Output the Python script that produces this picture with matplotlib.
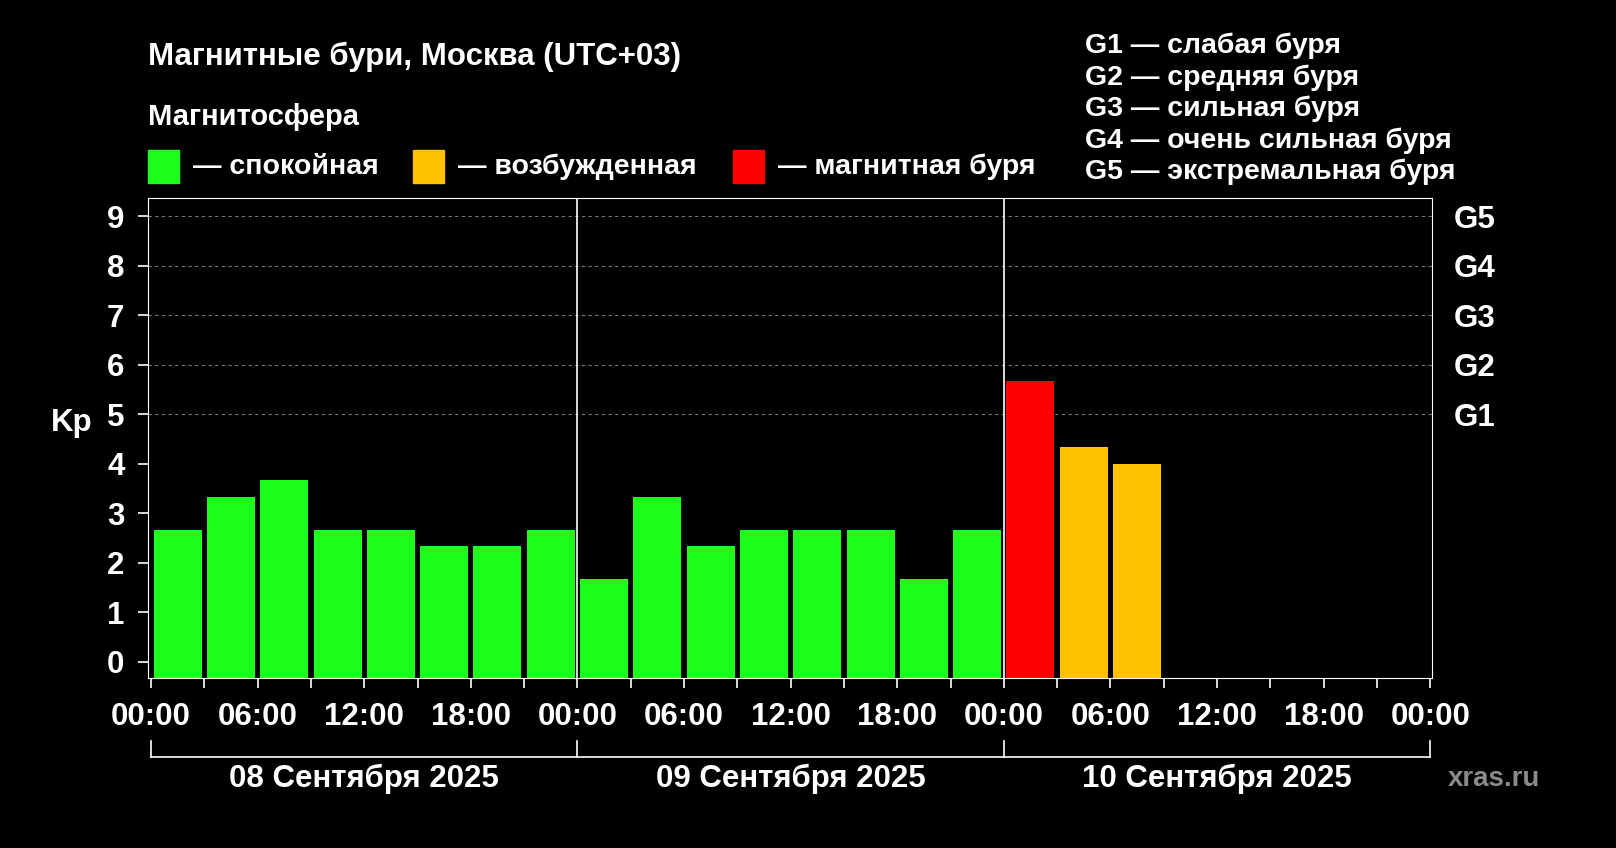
import matplotlib
matplotlib.use("Agg")
import matplotlib.pyplot as plt
from matplotlib.patches import Rectangle

plt.rcParams["font.family"] = ["Liberation Sans", "DejaVu Sans"]
plt.rcParams["font.weight"] = "bold"

kp = [2.67, 3.33, 3.67, 2.67, 2.67, 2.33, 2.33, 2.67,
      1.67, 3.33, 2.33, 2.67, 2.67, 2.67, 1.67, 2.67,
      5.67, 4.33, 4.0]
days = ["08 Сентября 2025", "09 Сентября 2025", "10 Сентября 2025"]
hour_labels = ["00:00", "06:00", "12:00", "18:00"] * 3 + ["00:00"]
storm_levels = [5, 6, 7, 8, 9]
storm_labels = ["G1", "G2", "G3", "G4", "G5"]
legend_right = ["G1 — слабая буря", "G2 — средняя буря", "G3 — сильная буря",
                "G4 — очень сильная буря", "G5 — экстремальная буря"]

GREEN, ORANGE, RED = "#1cff1c", "#ffc000", "#ff0000"
BASE = -0.33


def colour(v):
    if v >= 5:
        return RED
    if v >= 4:
        return ORANGE
    return GREEN


W, H = 1616, 848
fig = plt.figure(figsize=(W / 100, H / 100), dpi=100, facecolor="black")
ax = fig.add_axes([148 / W, 1 - 678 / H, (1432 - 148) / W, (678 - 198) / H], facecolor="black")

x = [1.5 + 3 * i for i in range(len(kp))]
ax.bar(x, [v - BASE for v in kp], width=2.7, bottom=BASE, color=[colour(v) for v in kp])
ax.set_xlim(-0.17, 72.1)
ax.set_ylim(BASE, 9.37)

for lv in storm_levels:
    ax.axhline(lv, color="#777777", linestyle=(0, (3, 3)), linewidth=0.8, zorder=0)
for d in (24, 48):
    ax.axvline(d, color="white", linewidth=1.2)

for s in ax.spines.values():
    s.set_color("white")
ax.set_xticks(range(0, 73, 6))
ax.set_xticklabels(hour_labels)
ax.set_xticks(range(0, 73, 3), minor=True)
ax.set_yticks(range(10))
ax.tick_params(colors="white", labelsize=22.5, length=7, width=1.2, direction="out", pad=10)
ax.tick_params(axis="x", which="minor", colors="white", length=7, width=1.2)
ax.tick_params(axis="y", right=True)
ax.set_ylabel("Kp", color="white", fontsize=22.5, rotation=0, labelpad=25, weight="bold")

ax2 = ax.twinx()
ax2.set_ylim(ax.get_ylim())
ax2.set_yticks(storm_levels)
ax2.set_yticklabels(storm_labels)
ax2.tick_params(colors="white", labelsize=22.5, length=0, pad=16)
for s in ax2.spines.values():
    s.set_visible(False)


# day bracket under the axis
def fx(h):
    return (151 + h * (1430 - 151) / 72) / W


def fy(py):
    return 1 - py / H


fig.add_artist(plt.Line2D([fx(0), fx(72)], [fy(757), fy(757)], color="white", lw=1.2))
for h in (0, 24, 48, 72):
    fig.add_artist(plt.Line2D([fx(h), fx(h)], [fy(757), fy(741)], color="white", lw=1.2))
for i, d in enumerate(days):
    fig.text(fx(12 + 24 * i), fy(779), d, color="white", fontsize=22.5, ha="center", va="center")
fig.text(1448 / W, fy(779), "xras.ru", color="#8a8a8a", fontsize=20, ha="left", va="center")

fig.text(148 / W, fy(57), "Магнитные бури, Москва (UTC+03)", color="white", fontsize=22.5, va="center")
fig.text(148 / W, fy(117), "Магнитосфера", color="white", fontsize=21, va="center")
for px, c, t in [(148, GREEN, "— спокойная"), (413, ORANGE, "— возбужденная"), (733, RED, "— магнитная буря")]:
    fig.add_artist(Rectangle((px / W, fy(183)), 31 / W, 33 / H, color=c, transform=fig.transFigure))
    fig.text((px + 45) / W, fy(167), t, color="white", fontsize=20.5, va="center")
for i, t in enumerate(legend_right):
    fig.text(1085 / W, fy(46 + 31.5 * i), t, color="white", fontsize=20.5, va="center")

fig.savefig("out.png", dpi=100, facecolor="black")
